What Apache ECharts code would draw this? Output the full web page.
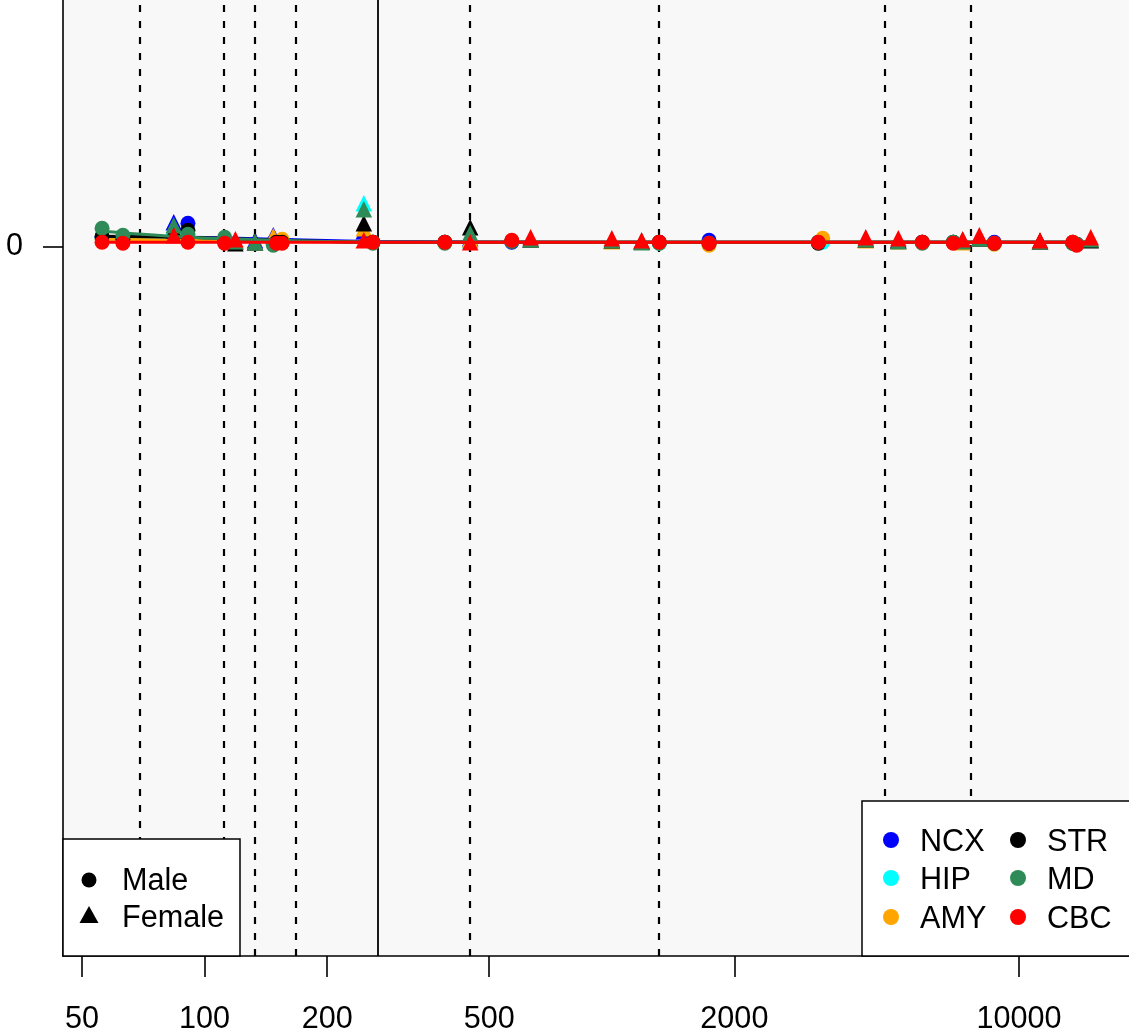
<!DOCTYPE html>
<html><head><meta charset="utf-8">
<script src="https://cdn.jsdelivr.net/npm/echarts@6/dist/echarts.min.js"></script>
<style>html,body{margin:0;padding:0;background:#fff}#c{width:1129px;height:1035px}</style>
</head><body><div id="c"></div>
<script>
const regions = ['NCX', 'HIP', 'AMY', 'STR', 'MD', 'CBC'];
const regionColors = ['#0000FF', '#00FFFF', '#FFA500', '#000000', '#2E8B57', '#FF0000'];

const maleAges = [56, 63, 91, 112, 147.5, 150, 155, 259, 389, 568, 1308, 1733, 3215, 3296, 5789, 6898, 8697, 13552, 13862];
const maleNCX = [0.009, 0.007, 0.023, 0.005, 0.004, null, null, 0.004, 0.004, 0.004, 0.004, 0.006, 0.004, null, 0.004, 0.004, 0.004, 0.004, 0.002];
const maleHIP = [0.008, 0.006, 0.010, 0.005, null, 0.004, null, 0.004, 0.004, 0.005, 0.003, 0.003, 0.004, 0.004, 0.004, 0.004, 0.003, 0.004, 0.002];
const maleAMY = [0.007, 0.006, 0.008, 0.005, null, null, 0.007, 0.004, 0.004, 0.005, 0.004, 0.001, null, 0.008, 0.004, 0.004, 0.002, 0.004, 0.002];
const maleSTR = [0.010, 0.007, 0.016, 0.005, null, 0.004, 0.004, 0.004, 0.004, 0.005, 0.004, 0.003, 0.003, null, 0.004, 0.004, 0.003, 0.003, 0.002];
const maleMD  = [0.018, 0.011, 0.012, 0.009, 0.001, null, null, 0.003, 0.003, 0.005, 0.003, 0.003, 0.004, null, 0.003, 0.004, 0.003, 0.003, 0.002];
const maleCBC = [0.004, 0.003, 0.004, 0.003, null, 0.003, 0.003, 0.004, 0.004, 0.006, 0.004, 0.003, 0.004, null, 0.004, 0.003, 0.003, 0.004, 0.001];

const femaleAges = [84, 119, 133, 147.5, 246, 449, 632, 1000, 1184, 4204, 5054, 7274, 7991, 11264, 15006];
const femaleNCX = [0.024, 0.005, 0.006, 0.011, 0.015, 0.008, 0.007, 0.006, 0.005, 0.007, 0.006, 0.006, 0.008, 0.005, 0.007];
const femaleHIP = [0.019, 0.005, 0.004, null, 0.043, 0.006, 0.007, 0.006, 0.005, 0.007, 0.006, 0.006, 0.008, 0.005, 0.007];
const femaleAMY = [0.017, 0.005, 0.004, 0.010, 0.018, 0.007, 0.007, 0.005, 0.005, 0.006, 0.005, 0.004, 0.008, 0.005, 0.007];
const femaleSTR = [0.016, 0.003, 0.004, null, 0.023, 0.019, 0.007, 0.006, 0.005, 0.007, 0.006, 0.006, 0.008, 0.005, 0.006];
const femaleMD  = [0.021, 0.005, 0.004, null, 0.037, 0.013, 0.007, 0.006, 0.004, 0.007, 0.005, 0.005, 0.008, 0.005, 0.007];
const femaleCBC = [0.011, 0.007, null, null, 0.006, 0.004, 0.009, 0.008, 0.006, 0.009, 0.008, 0.007, 0.011, 0.006, 0.009];

const lineAges = [56, 91, 150, 260, 1000, 15006];
const lineNCX = [0.008, 0.009, 0.007, 0.005, 0.004, 0.004];
const lineHIP = [0.007, 0.006, 0.005, 0.004, 0.004, 0.004];
const lineAMY = [0.007, 0.006, 0.005, 0.004, 0.004, 0.004];
const lineSTR = [0.010, 0.009, 0.006, 0.004, 0.004, 0.004];
const lineMD  = [0.015, 0.009, 0.006, 0.004, 0.004, 0.004];
const lineCBC = [0.004, 0.004, 0.004, 0.004, 0.004, 0.004];

const dashedLines = [69.4, 111.6, 132.6, 167.5, 449, 1305, 4670, 7624];
const solidLines = [266.6];
const xTicks = [50, 100, 200, 500, 2000, 10000];
const yTicks = [0];

const maleVals = [maleNCX, maleHIP, maleAMY, maleSTR, maleMD, maleCBC];
const femaleVals = [femaleNCX, femaleHIP, femaleAMY, femaleSTR, femaleMD, femaleCBC];
const lineVals = [lineNCX, lineHIP, lineAMY, lineSTR, lineMD, lineCBC];

const FONT = 'Liberation Sans';
const FS = 30.6;

function pairs(xs, ys) {
  const out = [];
  xs.forEach((x, i) => { if (ys[i] !== null) out.push([x, ys[i]]); });
  return out;
}

const series = [];
series.push({
  type: 'line', data: [], silent: true, z: 1,
  markLine: {
    silent: true, symbol: ['none', 'none'], label: { show: false },
    animation: false,
    data: dashedLines.map(v => ({ xAxis: v, lineStyle: { color: '#000', width: 2.2, type: [7, 9] } }))
      .concat(solidLines.map(v => ({ xAxis: v, lineStyle: { color: '#000', width: 1.8, type: 'solid' } })))
  }
});
regions.forEach((r, i) => {
  const z = 3 + i * 3;
  series.push({
    name: r + ' Male', type: 'scatter', symbol: 'circle', symbolSize: 15, z: z,
    itemStyle: { color: regionColors[i], opacity: 1 },
    data: pairs(maleAges, maleVals[i])
  });
  series.push({
    name: r + ' Female', type: 'scatter', symbol: 'triangle', symbolSize: 16.5, z: z + 1,
    itemStyle: { color: regionColors[i], opacity: 1 },
    data: pairs(femaleAges, femaleVals[i])
  });
  series.push({
    name: r + ' trend', type: 'line', showSymbol: false, z: z + 2, smooth: 0.3,
    lineStyle: { color: regionColors[i], width: 3 },
    data: pairs(lineAges, lineVals[i])
  });
});

const chart = echarts.init(document.getElementById('c'), null, { renderer: 'canvas' });

const legendText = (x, y, s) => ({
  type: 'text', x: x, y: y, z: 100,
  style: { text: s, fill: '#000', font: FS + 'px "' + FONT + '"', textVerticalAlign: 'middle', textAlign: 'left' }
});
const legendCircle = (x, y, c, r) => ({
  type: 'circle', z: 100, shape: { cx: x, cy: y, r: r }, style: { fill: c }
});

const graphics = [
  { type: 'rect', z: 99, shape: { x: 63, y: 839, width: 177, height: 117 }, style: { fill: '#fff', stroke: '#000', lineWidth: 1.5 } },
  legendCircle(89, 880, '#000', 7.5),
  { type: 'polygon', z: 100, shape: { points: [[89, 906], [98.5, 923], [79.5, 923]] }, style: { fill: '#000' } },
  legendText(122, 882, 'Male'),
  legendText(122, 919, 'Female'),
  { type: 'rect', z: 99, shape: { x: 862, y: 801, width: 300, height: 155 }, style: { fill: '#fff', stroke: '#000', lineWidth: 1.5 } }
];
const legendPos = [[891, 840], [891, 878], [891, 917], [1018, 840], [1018, 878], [1018, 917]];
regions.forEach((r, i) => {
  const p = legendPos[i];
  graphics.push(legendCircle(p[0], p[1], regionColors[i], 8));
  graphics.push(legendText(p[0] + 29, p[1] + 3, r));
});

chart.setOption({
  animation: false,
  backgroundColor: '#fff',
  textStyle: { fontFamily: FONT },
  grid: { left: 63, right: 0, top: 0, bottom: 79, containLabel: false, show: true, backgroundColor: '#F8F8F8', borderWidth: 0 },
  xAxis: {
    type: 'log', logBase: 10, min: 44.9, max: 18630, position: 'bottom',
    axisLine: { show: true, onZero: false, lineStyle: { color: '#000', width: 1.6 } },
    axisTick: { show: true, length: 21, lineStyle: { color: '#000', width: 1.6 }, customValues: xTicks },
    axisLabel: { show: true, customValues: xTicks, fontSize: FS, color: '#000', fontFamily: FONT, margin: 48, formatter: v => String(Math.round(v)) },
    splitLine: { show: false }, minorTick: { show: false }
  },
  yAxis: {
    type: 'value', min: -0.709, max: 0.246,
    axisLine: { show: true, onZero: false, lineStyle: { color: '#000', width: 1.6 } },
    axisTick: { show: true, length: 20, lineStyle: { color: '#000', width: 1.6 }, customValues: yTicks },
    axisLabel: { show: true, customValues: yTicks, fontSize: FS, color: '#000', fontFamily: FONT, margin: 40, padding: [4, 0, 0, 0], formatter: v => String(v) },
    splitLine: { show: false }
  },
  graphic: graphics,
  series: series
});
</script>
</body></html>
